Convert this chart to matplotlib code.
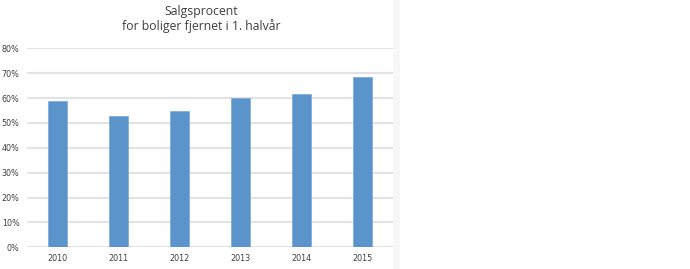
import matplotlib
matplotlib.use("Agg")
import matplotlib.pyplot as plt
from matplotlib.ticker import FuncFormatter
from matplotlib.patches import Rectangle

years = ["2010", "2011", "2012", "2013", "2014", "2015"]
values = [0.587, 0.527, 0.547, 0.600, 0.616, 0.684]
yticks = [0, 0.1, 0.2, 0.3, 0.4, 0.5, 0.6, 0.7, 0.8]

W, H = 690, 269
fig = plt.figure(figsize=(W / 100, H / 100), dpi=100)
fig.patch.set_facecolor("white")

# faint shadow strip at right edge of chart area
fig.patches.append(Rectangle((393 / W, 0), 7 / W, 1, transform=fig.transFigure,
                             facecolor="#F7F7F7", edgecolor="none", zorder=0))

ax = fig.add_axes([27.3 / W, 1 - 247.3 / H, 366 / W, (247.3 - 48.3) / H])
x = list(range(len(years)))
ax.bar(x, values, width=0.31, color="#5B93CB", edgecolor="#7FAEDC", linewidth=0.6, zorder=3)
ax.set_xlim(-0.5, len(years) - 0.5)
ax.set_ylim(0, 0.8)
ax.set_yticks(yticks)
ax.yaxis.set_major_formatter(FuncFormatter(lambda v, p: f"{v*100:.0f}%"))
ax.set_xticks(x)
ax.set_xticklabels(years)
ax.grid(axis="y", color="#E3E3E3", linewidth=1.5, zorder=0)
for s in ax.spines.values():
    s.set_visible(False)
ax.tick_params(length=0, labelsize=5.8, colors="#404040")
ax.tick_params(axis="y", pad=5.5)
ax.tick_params(axis="x", pad=5)
ax.set_facecolor("none")

fig.text(201 / W, 1 - 11 / H, "Salgsprocent", ha="center", va="center",
         fontsize=8.8, color="#404040", family="Open Sans")
fig.text(201 / W, 1 - 26 / H, "for boliger fjernet i 1. halvår", ha="center", va="center",
         fontsize=8.8, color="#404040", family="Open Sans")

fig.savefig("out.png", dpi=100)
